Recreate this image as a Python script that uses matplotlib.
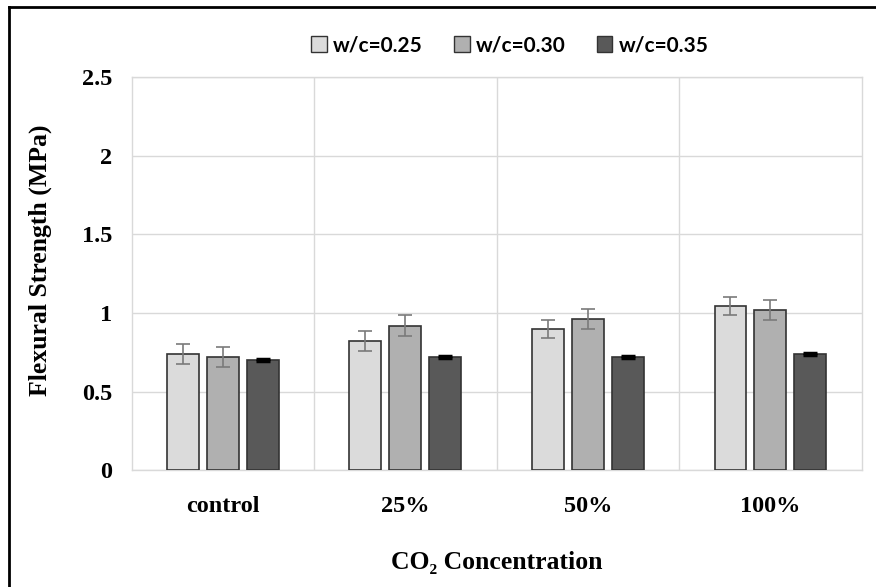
import numpy as np
import matplotlib.pyplot as plt
from matplotlib.lines import Line2D
from matplotlib.patches import Patch

# flexural strength
categories = ["control", "25%", "50%", "100%"]
series = ["w/c=0.25", "w/c=0.30", "w/c=0.35"]
wc025 = [0.74, 0.82, 0.90, 1.045]
wc030 = [0.72, 0.92, 0.96, 1.02]
wc035 = [0.70, 0.72, 0.72, 0.74]
err025 = [0.065, 0.065, 0.058, 0.06]
err030 = [0.066, 0.066, 0.064, 0.065]
err035 = [0.006, 0.006, 0.006, 0.006]
yticks = [0, 0.5, 1, 1.5, 2, 2.5]
yticklabels = ["0", "0.5", "1", "1.5", "2", "2.5"]

colors = ["#DBDBDB", "#B0B0B0", "#595959"]
ecolors = ["#7a7a7a", "#7a7a7a", "#000000"]
serif = ["Liberation Serif", "DejaVu Serif"]

fig = plt.figure(figsize=(8.76, 5.87), dpi=100)
ax = fig.add_axes([0.1503, 0.1993, 0.8334, 0.6687])

x = np.arange(len(categories))
w = 0.175
step = 0.219
vals = [wc025, wc030, wc035]
errs = [err025, err030, err035]
for i in range(3):
    ax.bar(x + (i - 1) * step, vals[i], w, color=colors[i], edgecolor="#333333",
           linewidth=1.2, zorder=3)
    thick = 2.5 if i == 2 else 1.2
    ax.errorbar(x + (i - 1) * step, vals[i], yerr=errs[i], fmt="none",
                ecolor=ecolors[i], elinewidth=1.2, capsize=4.7, capthick=thick, zorder=4)

ax.set_xlim(-0.5, 3.5)
ax.set_ylim(0, 2.5)
ax.set_yticks(yticks)
ax.set_yticklabels(yticklabels)
ax.set_xticks(x)
ax.set_xticklabels(categories)
ax.set_xticks([0.5, 1.5, 2.5], minor=True)
ax.grid(axis="y", color="#D9D9D9", linewidth=1, zorder=0)
ax.grid(axis="x", which="minor", color="#D9D9D9", linewidth=1, zorder=0)
ax.tick_params(which="both", length=0)
ax.tick_params(axis="y", pad=14)
ax.tick_params(axis="x", pad=19)
for lab in ax.get_xticklabels() + ax.get_yticklabels():
    lab.set_family(serif)
    lab.set_fontweight("bold")
    lab.set_fontsize(17.5)
for s in ax.spines.values():
    s.set_color("#D9D9D9")
    s.set_linewidth(1)

fig.text(0.046, 0.557, "Flexural Strength (MPa)", rotation=90, ha="center", va="center",
         family=serif, fontweight="bold", fontsize=18.5)
fig.text(0.5674, 0.041, "CO\u2082 Concentration", ha="center", va="center",
         family=serif, fontweight="bold", fontsize=18.5)

handles = [Patch(facecolor=c, edgecolor="#333333", linewidth=1) for c in colors]
fig.legend(handles, series, loc="center", bbox_to_anchor=(0.582, 0.923), ncol=3,
           frameon=False, handlelength=0.75, handleheight=0.75, handletextpad=0.3,
           columnspacing=1.5, prop={"family": "Lato", "weight": "bold", "size": 15})

# outer frame on top and left edges
fig.add_artist(Line2D([0.0105, 1.0], [0.9875, 0.9875], color="black", linewidth=2,
                      transform=fig.transFigure))
fig.add_artist(Line2D([0.0105, 0.0105], [0.0, 0.9875], color="black", linewidth=2,
                      transform=fig.transFigure))

fig.savefig("out.png", dpi=100)
